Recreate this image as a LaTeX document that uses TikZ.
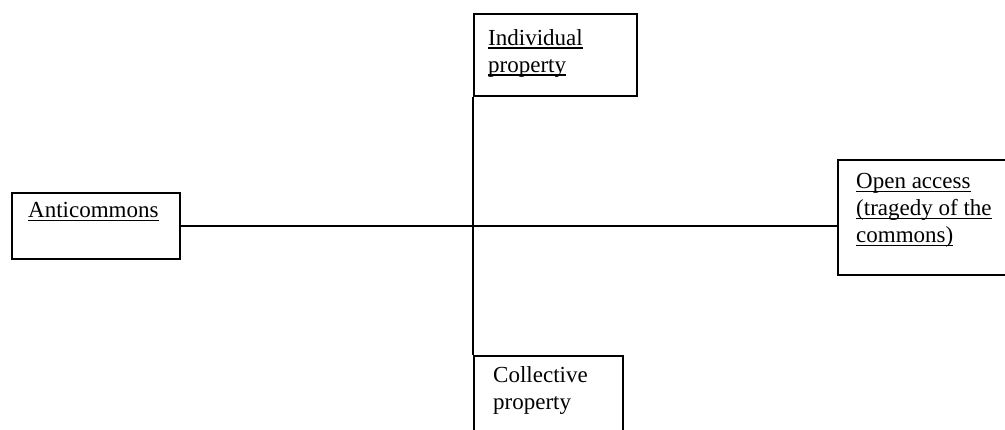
\documentclass[tikz,border=0pt]{standalone}
\usepackage{fontspec}
\setmainfont{Liberation Serif}
\usepackage{calc}
\newlength\ulinewd
\newcommand\ulined[1]{\settowidth{\ulinewd}{#1}\rlap{\rule[-3.5pt]{\ulinewd}{1.4pt}}#1}
\tikzset{
  box/.style={draw, line width=2pt, anchor=north west, inner sep=0pt},
  lbl/.style={anchor=north west, inner sep=0pt, align=left,
              font=\fontsize{23}{27}\selectfont},
  conn/.style={line width=2.4pt}
}
\begin{document}
\begin{tikzpicture}[x=1pt,y=-1pt]
\clip (0,0) rectangle (1005,430);
\fill[white] (0,0) rectangle (1005,430);
% boxes
\node[box, minimum width=163pt, minimum height=82pt] (ind) at (473,13) {};
\node[box, minimum width=168pt, minimum height=66pt] (anti) at (11,192) {};
\node[box, minimum width=180pt, minimum height=115pt] (oa) at (837,159) {};
\node[box, minimum width=149pt, minimum height=95pt] (col) at (473,355) {};
% labels
\node[lbl] (indt) at (488,29) {\ulined{Individual}\\\ulined{property}};
\node[lbl] (antit) at (28,202) {\ulined{Anticommons}};
\node[lbl] (oat) at (856,173) {\ulined{Open access}\\\ulined{(tragedy of the}\\\ulined{commons)}};
\node[lbl] (colt) at (493,366) {Collective\\property};
% connectors
\draw[conn] (anti.east) -- (anti.east -| oa.west);
\draw[conn] (ind.south west) -- (col.north west);
\end{tikzpicture}
\end{document}
